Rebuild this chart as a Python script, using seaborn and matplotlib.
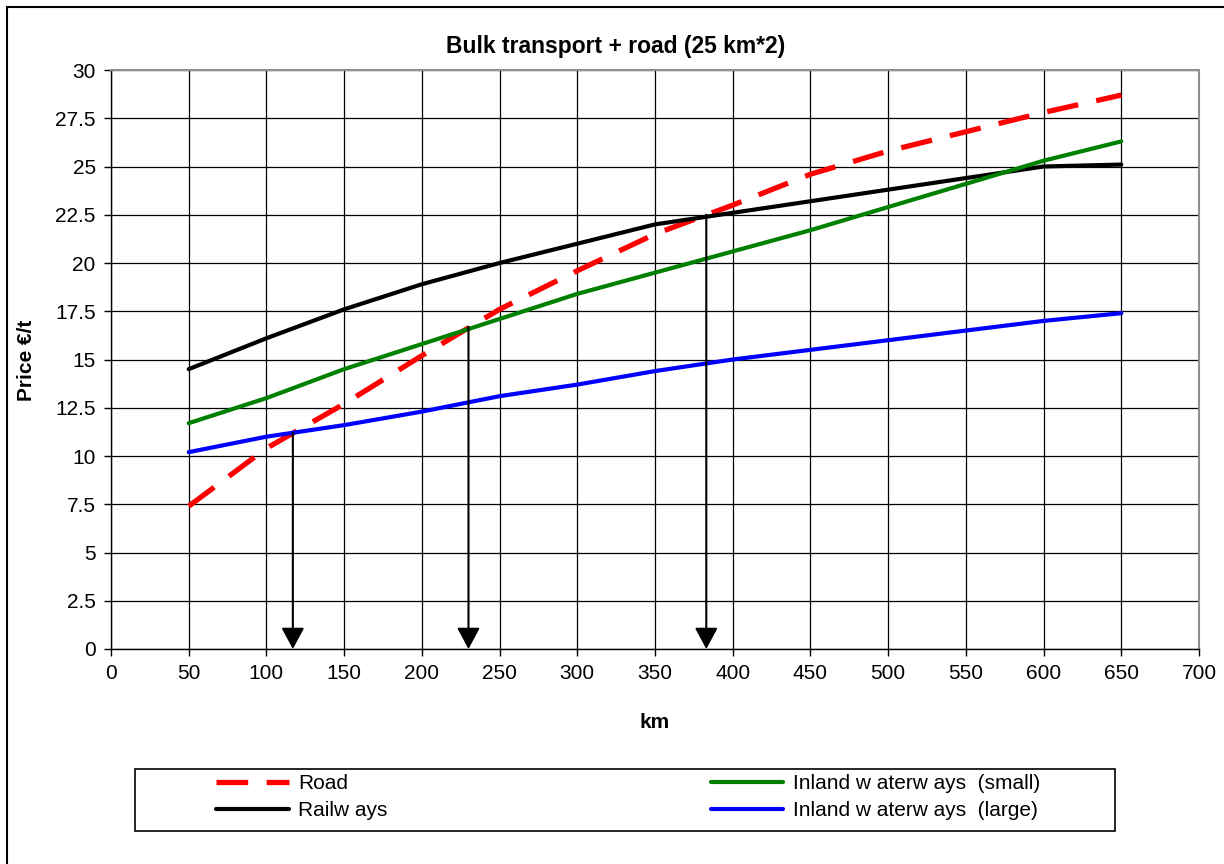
import numpy as np
import pandas as pd
import matplotlib
matplotlib.use("Agg")
import matplotlib.pyplot as plt
from matplotlib.patches import Rectangle
import seaborn as sns

# data
km = [50, 100, 150, 200, 250, 300, 350, 400, 450, 500, 550, 600, 650]
road = [7.4, 10.4, 12.7, 15.2, 17.6, 19.6, 21.5, 23.0, 24.6, 25.8, 26.8, 27.8, 28.7]
railways = [14.5, 16.1, 17.6, 18.9, 20.0, 21.0, 22.0, 22.6, 23.2, 23.8, 24.4, 25.0, 25.1]
iww_small = [11.7, 13.0, 14.5, 15.8, 17.1, 18.4, 19.5, 20.6, 21.7, 22.9, 24.1, 25.3, 26.3]
iww_large = [10.2, 11.0, 11.6, 12.3, 13.1, 13.7, 14.4, 15.0, 15.5, 16.0, 16.5, 17.0, 17.4]

series_names = ["Road", "Railw ays", "Inland w aterw ays  (small)", "Inland w aterw ays  (large)"]
series_colors = ["#ff0000", "#000000", "#008000", "#0000ff"]

# break-even arrows (km, price where the lines cross)
arrow_km = [117, 230, 383]
arrow_top = [11.2, 16.7, 22.5]

df = pd.DataFrame({
    "km": km * 4,
    "price": road + railways + iww_small + iww_large,
    "series": [n for n in series_names for _ in km],
})

sns.set_style("white")
plt.rcParams["font.family"] = ["Liberation Sans", "DejaVu Sans"]
plt.rcParams["text.color"] = "black"
plt.rcParams["xtick.color"] = "black"
plt.rcParams["ytick.color"] = "black"

fig = plt.figure(figsize=(12.24, 8.64), dpi=100)
ax = fig.add_axes([111 / 1224, 1 - 649 / 864, (1199 - 111) / 1224, (649 - 70) / 864])

sns.lineplot(data=df, x="km", y="price", hue="series", style="series",
             hue_order=series_names, style_order=series_names,
             palette=dict(zip(series_names, series_colors)),
             dashes={series_names[0]: (6.0, 3.5), series_names[1]: "",
                     series_names[2]: "", series_names[3]: ""},
             linewidth=3, legend=False, ax=ax, zorder=3)
ax.lines[0].set_linewidth(3.8)

for x, top in zip(arrow_km, arrow_top):
    ax.annotate("", xy=(x, 0), xytext=(x, top),
                arrowprops=dict(arrowstyle="-|>,head_length=1.3,head_width=0.7",
                                color="black", lw=1.5, shrinkA=0, shrinkB=0,
                                mutation_scale=10), zorder=4)

ax.set_xlim(0, 700)
ax.set_ylim(0, 30)
ax.set_xticks(np.arange(0, 701, 50))
ax.set_yticks(np.arange(0, 30.1, 2.5))
ax.set_yticklabels([f"{v:g}" for v in np.arange(0, 30.1, 2.5)])
ax.grid(True, color="black", linewidth=0.9)
ax.set_axisbelow(True)
ax.tick_params(axis="both", labelsize=15, length=5, width=1, color="black",
               labelcolor="black", direction="out", bottom=True, left=True, pad=6)
for side in ["left", "bottom"]:
    ax.spines[side].set_color("black")
    ax.spines[side].set_linewidth(1)
for side in ["top", "right"]:
    ax.spines[side].set_color("#909090")
    ax.spines[side].set_linewidth(1.5)

ax.set_xlabel("")
ax.set_ylabel("")
fig.text(655 / 1224, 1 - 722 / 864, "km", ha="center", va="center",
         fontsize=15, fontweight="bold")
fig.text(27 / 1224, 1 - 360 / 864, "Price €/t", ha="center", va="center",
         rotation=90, fontsize=15, fontweight="bold")
fig.text(616 / 1224, 1 - 46 / 864, "Bulk transport + road (25 km*2)",
         ha="center", va="center", fontsize=16.5, fontweight="bold")

# legend inside a separate box
handles = ax.lines[:4]
leg = fig.legend(handles, series_names, loc="upper left", ncol=2,
                 bbox_to_anchor=(216 / 1224, 1 - 774 / 864),
                 frameon=False, fontsize=15, handlelength=3.5,
                 handletextpad=0.45, columnspacing=15.5, labelspacing=0.4,
                 borderpad=0, borderaxespad=0)
fig.patches.append(Rectangle((135 / 1224, 1 - 831 / 864), 980 / 1224, 62 / 864,
                             transform=fig.transFigure, fill=False,
                             edgecolor="black", linewidth=1.2))
fig.patches.append(Rectangle((7 / 1224, -0.05), 1.1, 1.05 - 7 / 864,
                             transform=fig.transFigure, fill=False,
                             edgecolor="black", linewidth=1.5))

fig.savefig("out.png", dpi=100)
